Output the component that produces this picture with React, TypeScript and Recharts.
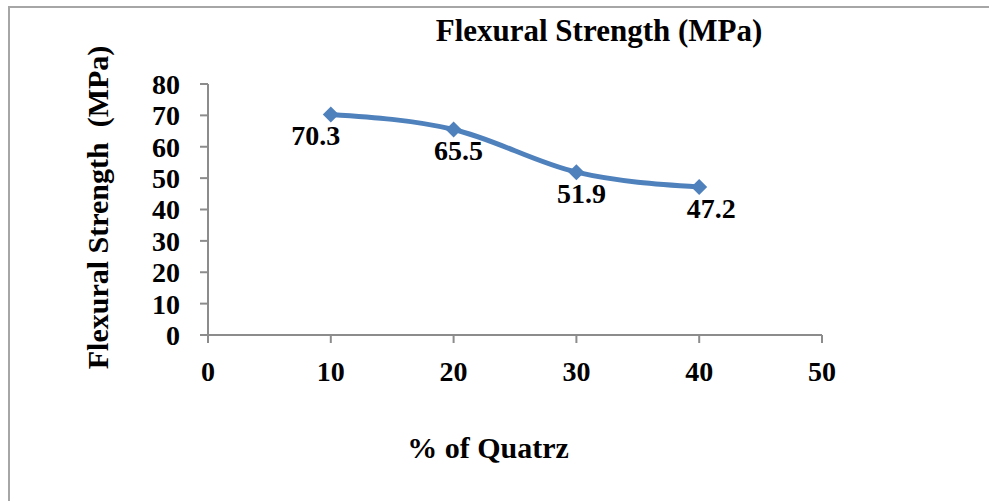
import { LineChart, Line, XAxis, YAxis } from "recharts";

const QUARTZ = [10, 20, 30, 40];
const STRENGTH = [70.3, 65.5, 51.9, 47.2];
const X_TICKS = [0, 10, 20, 30, 40, 50];
const Y_TICKS = [0, 10, 20, 30, 40, 50, 60, 70, 80];

// small nudges so the value labels sit where the original has them
const LABEL_DX = [-15, 5, 5, 12];

const data = QUARTZ.map((q, i) => ({ quartz: q, strength: STRENGTH[i] }));

const FONT = "'Liberation Serif', 'Times New Roman', serif";
const BLUE = "#4F81BD";
const AXIS = "#8c8c8c";

const Diamond = (props: any) => {
  const { cx, cy } = props;
  if (cx == null || cy == null) return null;
  const r = 8;
  return (
    <polygon
      points={`${cx},${cy - r} ${cx + r},${cy} ${cx},${cy + r} ${cx - r},${cy}`}
      fill={BLUE}
    />
  );
};

const ValueLabel = (props: any) => {
  const { x, y, value, index } = props;
  return (
    <text
      x={x + LABEL_DX[index]}
      y={y + 31}
      textAnchor="middle"
      fontFamily={FONT}
      fontWeight="bold"
      fontSize={28}
      fill="#000"
    >
      {value}
    </text>
  );
};

const XTitle = (props: any) => {
  const { viewBox } = props;
  return (
    <text
      x={viewBox.x + viewBox.width / 2 - 27}
      y={viewBox.y + 123}
      textAnchor="middle"
      fontFamily={FONT}
      fontWeight="bold"
      fontSize={30}
      fill="#000"
    >
      % of Quatrz
    </text>
  );
};

const YTitle = (props: any) => {
  const { viewBox } = props;
  const cx = 97;
  const cy = viewBox.y + viewBox.height / 2 - 2;
  return (
    <text
      x={cx}
      y={cy}
      transform={`rotate(-90 ${cx} ${cy})`}
      textAnchor="middle"
      dominantBaseline="central"
      fontFamily={FONT}
      fontWeight="bold"
      fontSize={30}
      fill="#000"
      style={{ whiteSpace: "pre" }}
    >
      {"Flexural Strength\u00a0 (MPa)"}
    </text>
  );
};

export default function App() {
  const tick = { fontFamily: FONT, fontWeight: "bold", fontSize: 28, fill: "#000" };
  return (
    <div style={{ position: "relative", width: 989, height: 501, overflow: "hidden", background: "#fff" }}>
      <style>{`body{margin:0;overflow:hidden}`}</style>
      <div
        style={{
          position: "absolute",
          left: 8,
          top: 6,
          width: 1100,
          height: 600,
          borderTop: "2px solid #a6a6a6",
          borderLeft: "2px solid #a6a6a6",
        }}
      />
      <div
        style={{
          position: "absolute",
          left: 0,
          top: 13,
          width: 1198,
          textAlign: "center",
          fontFamily: FONT,
          fontWeight: "bold",
          fontSize: 31,
          lineHeight: "36px",
          color: "#000",
        }}
      >
        Flexural Strength (MPa)
      </div>
      <div style={{ position: "absolute", left: 0, top: 0 }}>
        <LineChart
          width={989}
          height={501}
          data={data}
          margin={{ top: 84, right: 167, left: 148, bottom: 126 }}
        >
          <XAxis
            type="number"
            dataKey="quartz"
            domain={[0, 50]}
            ticks={X_TICKS}
            interval={0}
            height={40}
            stroke={AXIS}
            strokeWidth={2}
            tickSize={8}
            tickMargin={18}
            tick={tick}
            tickLine={{ stroke: AXIS, strokeWidth: 2 }}
            label={<XTitle />}
          />
          <YAxis
            type="number"
            domain={[0, 80]}
            ticks={Y_TICKS}
            interval={0}
            width={60}
            stroke={AXIS}
            strokeWidth={2}
            tickSize={8}
            tickMargin={20}
            tick={tick}
            tickLine={{ stroke: AXIS, strokeWidth: 2 }}
            label={<YTitle />}
          />
          <Line
            type="monotone"
            dataKey="strength"
            stroke={BLUE}
            strokeWidth={5}
            dot={<Diamond />}
            activeDot={false}
            label={<ValueLabel />}
            isAnimationActive={false}
          />
        </LineChart>
      </div>
    </div>
  );
}
